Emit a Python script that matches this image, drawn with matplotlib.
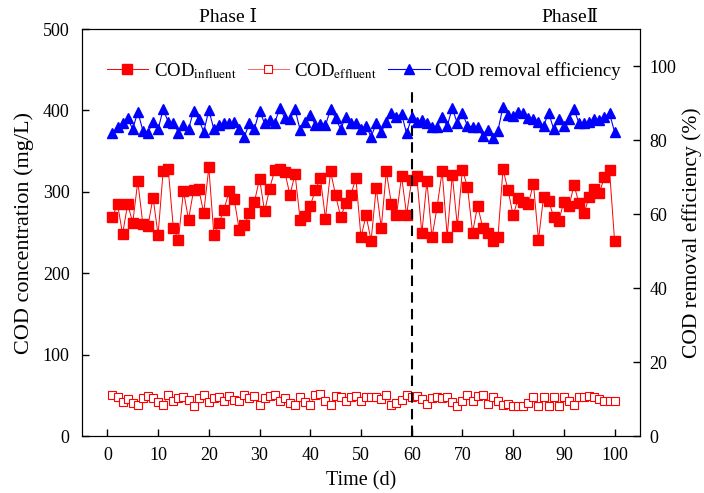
import matplotlib
matplotlib.use('Agg')
import matplotlib.pyplot as plt
import numpy as np

plt.rcParams['font.family'] = ['Liberation Serif', 'DejaVu Serif']
plt.rcParams['mathtext.fontset'] = 'stix'

days = np.arange(1, 101)

cod_influent = [
    269, 285, 248, 285, 262, 313, 260, 258, 293, 247,
    326, 328, 256, 241, 301, 266, 302, 304, 274, 330,
    247, 262, 278, 301, 291, 253, 259, 274, 288, 316,
    276, 304, 327, 328, 324, 296, 322, 266, 270, 283,
    302, 317, 267, 325, 296, 269, 286, 296, 317, 244,
    271, 240, 305, 256, 325, 285, 271, 319, 272, 315,
    319, 249, 313, 244, 281, 325, 245, 321, 258, 327,
    306, 250, 283, 256, 250, 239, 244, 328, 302, 271,
    292, 287, 285, 310, 241, 294, 289, 269, 264, 288,
    282, 308, 286, 274, 294, 303, 299, 318, 327, 240,
]

cod_effluent = [
    50.4, 48.3, 42.2, 45.1, 41.0, 38.1, 46.3, 49.1, 46.3, 42.2,
    38.1, 50.4, 43.4, 46.3, 48.3, 44.2, 36.8, 46.3, 50.4, 42.2,
    46.3, 47.5, 43.4, 49.1, 44.2, 43.4, 50.4, 46.3, 49.1, 38.1,
    46.3, 49.1, 50.4, 43.4, 46.3, 41.0, 38.1, 48.3, 42.2, 38.1,
    50.4, 51.6, 43.4, 38.1, 49.1, 48.3, 43.4, 48.3, 49.1, 43.4,
    47.5, 48.3, 47.5, 45.1, 50.4, 38.1, 40.1, 44.2, 50.4, 47.5,
    49.1, 45.1, 39.3, 46.3, 48.3, 46.3, 47.5, 42.2, 36.8, 43.4,
    50.4, 43.4, 49.1, 50.4, 39.3, 48.3, 43.4, 38.1, 39.3, 36.8,
    36.8, 36.8, 41.0, 47.5, 36.8, 47.5, 36.8, 47.5, 36.8, 47.5,
    43.4, 38.1, 48.3, 47.5, 49.1, 47.5, 45.1, 43.4, 43.4, 43.4,
]

removal_eff = [
    81.8, 83.6, 84.5, 85.9, 82.9, 87.7, 82.5, 82.0, 84.9, 82.9,
    88.3, 84.9, 84.7, 82.0, 84.0, 82.9, 87.9, 85.6, 82.2, 88.1,
    82.9, 84.0, 84.5, 84.5, 84.9, 83.1, 80.9, 84.5, 83.1, 87.9,
    84.5, 85.4, 84.7, 88.6, 85.9, 85.6, 88.3, 82.7, 84.9, 86.9,
    84.0, 84.3, 84.0, 88.3, 85.9, 82.9, 86.3, 84.5, 84.7, 83.0,
    83.8, 80.9, 84.5, 82.2, 84.8, 87.3, 86.3, 87.0, 81.8, 86.1,
    84.9, 85.4, 84.5, 83.6, 83.4, 86.3, 83.8, 88.6, 84.5, 87.3,
    83.8, 83.6, 83.4, 81.1, 82.7, 80.5, 82.5, 89.0, 86.8, 86.5,
    87.7, 87.2, 85.9, 85.6, 84.9, 83.8, 87.4, 82.9, 85.6, 83.8,
    85.6, 88.3, 84.5, 84.5, 84.9, 85.6, 85.4, 86.3, 87.2, 82.2,
]

phase_split = 60
phase_labels = ['Phase \u2160', 'Phase\u2161']

fig = plt.figure(figsize=(7.04, 4.93), dpi=100)
ax = fig.add_axes([0.1165, 0.1156, 0.7925, 0.8255])
ax2 = ax.twinx()

l1, = ax.plot(days, cod_influent, color='red', lw=0.7, marker='s', ms=6.5,
              mfc='red', mec='red', label='COD$_{\\mathrm{influent}}$')
l2, = ax.plot(days, cod_effluent, color='#ff6666', lw=0.7, marker='s', ms=6.3,
              mfc='white', mec='red', mew=0.8, label='COD$_{\\mathrm{effluent}}$')
l3, = ax2.plot(days, removal_eff, color='blue', lw=0.8, marker='^', ms=7.5,
               mfc='blue', mec='blue', label='COD removal efficiency')

ax.plot([phase_split, phase_split], [0, 425], color='black', lw=1.5, ls=(0, (5, 3)))

ax.set_xlim(-5, 105)
ax.set_ylim(0, 500)
ax2.set_ylim(0, 110)
ax.set_xticks(range(0, 101, 10))
ax.set_yticks(range(0, 501, 100))
ax2.set_yticks(range(0, 101, 20))

ax.tick_params(direction='in', labelsize=13, length=5, width=1)
ax.tick_params(axis='x', pad=8)
ax.tick_params(axis='y', pad=9)
ax2.tick_params(direction='in', labelsize=13, length=5, width=1, pad=7)

ax.set_xlabel('Time (d)', fontsize=14.5, labelpad=5)
ax.set_ylabel('COD concentration (mg/L)', fontsize=16, labelpad=6)
ax2.set_ylabel('COD removal efficiency (%)', fontsize=15.5, labelpad=4)

fig.text(228 / 704, 1 - 18 / 493, phase_labels[0], ha='center', va='center', fontsize=14)
fig.text(570 / 704, 1 - 18 / 493, phase_labels[1], ha='center', va='center', fontsize=14)

ax.legend(handles=[l1, l2, l3], loc='upper center', bbox_to_anchor=(0.505, 0.94),
          ncol=3, frameon=False, fontsize=13.5, handlelength=2.2,
          columnspacing=0.6, handletextpad=0.3, borderaxespad=0)

fig.savefig('out.png', dpi=100)
